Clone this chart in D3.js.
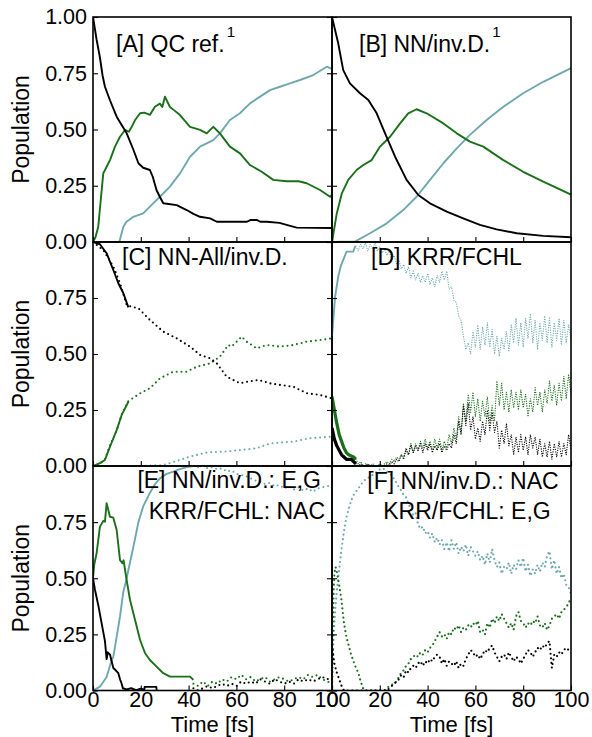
<!DOCTYPE html>
<html><head><meta charset="utf-8">
<script src="https://cdn.jsdelivr.net/npm/d3@7"></script>
<style>body{margin:0;background:#fff} svg text{font-family:"Liberation Sans",Arial,sans-serif}</style>
</head><body><svg id="c" width="592" height="737"></svg>
<script>
// ---------------- DATA ----------------
const xTicks = [0, 20, 40, 60, 80, 100];
const yTicksTop = [0, 0.25, 0.5, 0.75, 1];
const yTicksLower = [0, 0.25, 0.5, 0.75];
const panelTitles = ["[A] QC ref.", "[B] NN/inv.D.", "[C] NN-All/inv.D.", "[D] KRR/FCHL",
                     "[E] NN/inv.D.: E,G", "KRR/FCHL: NAC", "[F] NN/inv.D.: NAC", "KRR/FCHL: E,G"];

// [A] QC reference  ([time fs, population])
const aBlack = [[0,1.0],[1.5,0.9],[2.9,0.82],[4,0.74],[5,0.69],[7.1,0.63],[9.9,0.557],[12,0.52],[14.1,0.483],[16.9,0.41],[19,0.35],[21,0.33],[23.8,0.32],[25,0.29],[26.6,0.23],[28,0.2],[29.4,0.172],[35,0.164],[39.2,0.142],[42,0.125],[44.8,0.112],[49,0.105],[51.8,0.09],[64.4,0.09],[66,0.098],[68.5,0.098],[70,0.09],[72.7,0.09],[78,0.085],[81,0.076],[85.2,0.064],[100,0.062]];
const aGreen = [[0,0],[1,0.02],[2.2,0.068],[3,0.16],[4.3,0.305],[5.5,0.33],[7.1,0.364],[9.2,0.424],[11.3,0.468],[13.4,0.498],[15,0.49],[16.2,0.512],[17.6,0.542],[19.7,0.572],[21.5,0.575],[23.8,0.565],[25.9,0.601],[28,0.615],[29,0.6],[30.1,0.646],[32.2,0.6],[34,0.585],[36.4,0.564],[40.6,0.512],[44.8,0.498],[47.6,0.483],[50.3,0.512],[53.1,0.483],[57.3,0.424],[61.5,0.394],[65.7,0.342],[70.6,0.312],[75.4,0.276],[81,0.27],[86,0.27],[89.4,0.261],[95,0.231],[99.2,0.201],[100,0.21]];
const aBlue = [[0,0],[11,0],[12.7,0.068],[14,0.09],[16.9,0.112],[21,0.127],[23.8,0.157],[28,0.201],[32.2,0.246],[36.4,0.305],[40.6,0.379],[44.8,0.424],[50.3,0.453],[53.1,0.483],[57.3,0.542],[61.5,0.572],[65.7,0.616],[69.9,0.646],[74.1,0.675],[78.2,0.69],[82.4,0.705],[86.6,0.72],[92.2,0.742],[97.8,0.779],[100,0.77]];

// [B] NN/inv.D.
const bBlack = [[0,1.0],[2.6,0.883],[4.7,0.764],[7.5,0.705],[11.7,0.661],[15.2,0.631],[18.7,0.572],[22.2,0.483],[26.4,0.379],[31.2,0.276],[36.1,0.209],[41,0.172],[48,0.135],[54.9,0.105],[61.9,0.076],[68.9,0.056],[77.3,0.039],[88.4,0.027],[100,0.021]];
const bGreen = [[0,0],[2,0.127],[4.1,0.216],[6.8,0.276],[10.3,0.32],[13.1,0.342],[16.6,0.364],[20.1,0.424],[24.3,0.468],[28.5,0.527],[31.9,0.572],[35.4,0.59],[39.6,0.572],[46.6,0.527],[52.2,0.483],[57.7,0.446],[63.3,0.424],[71.7,0.364],[80,0.312],[88.4,0.268],[100,0.211]];
const bBlue = [[0,0],[9.8,0.003],[15.9,0.039],[22.9,0.083],[29.8,0.142],[35.4,0.201],[41,0.276],[46.6,0.35],[52.2,0.416],[57.7,0.476],[64.7,0.542],[71.7,0.601],[80,0.661],[88.4,0.712],[100,0.773]];

// [C] NN-All/inv.D.
const cBlackSolid = [[0,1.0],[2.9,0.99],[5.7,0.95],[8.5,0.875],[10.6,0.816],[12.7,0.771],[14.8,0.708]];
const cGreenSolid = [[0,0],[2.9,0.013],[5,0.027],[7.1,0.086],[9.9,0.16],[12,0.228],[14.8,0.287]];
const cBlackDot = [[0,1.0],[4.3,0.964],[8.5,0.89],[11.3,0.816],[14.1,0.719],[16.5,0.71],[19,0.704],[23.8,0.652],[29.4,0.6],[35,0.57],[40.6,0.533],[44.8,0.496],[49,0.481],[51.8,0.458],[55.9,0.399],[61.5,0.369],[64.3,0.376],[69.2,0.384],[74.1,0.369],[78.2,0.362],[83.8,0.354],[89.4,0.325],[95,0.317],[100,0.302]];
const cGreenDot = [[0,0],[3,0.01],[5,0.03],[7,0.09],[10,0.16],[12,0.23],[14.8,0.29],[19.7,0.324],[23.8,0.347],[28,0.391],[33.6,0.421],[39.2,0.421],[43.4,0.443],[49,0.458],[53.1,0.488],[56.6,0.54],[58,0.533],[62.2,0.577],[64.3,0.555],[68.5,0.525],[72.7,0.54],[78.2,0.533],[83.8,0.54],[89.4,0.555],[95,0.562],[100,0.57]];
const cBlueDot = [[0,0],[20,0],[29.4,0.004],[36.4,0.027],[40.6,0.042],[47.6,0.06],[54.5,0.064],[61.5,0.071],[68.5,0.079],[74.1,0.101],[83.8,0.109],[90.8,0.124],[100,0.131]];

// [D] KRR/FCHL
const dBlueSolid = [[0,0.58],[1.3,0.756],[2.6,0.845],[3.6,0.89],[4.7,0.92],[6.1,0.957],[8.9,0.957],[9.6,0.979],[10,0.98]];
const dGreenSolid = [[0,0.31],[1,0.25],[2,0.19],[3,0.14],[4,0.11],[5,0.08],[6,0.06],[7,0.05],[8,0.045],[9,0.04],[10,0.03]];
const dBlackSolid = [[0,0.17],[1,0.12],[2,0.09],[3,0.07],[4,0.05],[5,0.04],[6,0.03],[7,0.03],[8,0.03],[9,0.02],[10,0.01]];
const dTimeDot = d3.range(10, 101);
const dBlueDot = [0.98,0.96,0.99,0.97,0.995,0.96,0.99,0.97,0.995,0.96,
  0.98,0.95,0.97,0.94,0.96,0.92,0.94,0.90,0.92,0.88,
  0.90,0.86,0.89,0.84,0.87,0.83,0.86,0.82,0.85,0.82,
  0.86,0.81,0.84,0.80,0.85,0.82,0.87,0.83,0.87,0.79,
  0.80,0.74,0.73,0.67,0.65,0.58,0.52,0.55,0.50,0.60,
  0.53,0.63,0.52,0.62,0.54,0.64,0.53,0.61,0.50,0.58,
  0.49,0.57,0.52,0.60,0.51,0.63,0.55,0.66,0.54,0.64,
  0.53,0.66,0.57,0.68,0.55,0.65,0.52,0.64,0.56,0.67,
  0.55,0.66,0.53,0.64,0.56,0.66,0.54,0.65,0.55,0.63,
  0.56];
const dGreenDot = [0.03,0.01,0.02,0.0,0.01,0.0,0.0,0.01,0.0,0.0,
  0.01,0.0,0.01,0.02,0.01,0.03,0.02,0.04,0.03,0.05,
  0.04,0.07,0.05,0.09,0.06,0.10,0.07,0.11,0.08,0.12,
  0.08,0.11,0.07,0.12,0.08,0.12,0.07,0.11,0.08,0.14,
  0.10,0.17,0.12,0.22,0.15,0.28,0.20,0.32,0.24,0.33,
  0.22,0.30,0.20,0.29,0.22,0.31,0.19,0.27,0.20,0.38,
  0.27,0.37,0.25,0.33,0.24,0.34,0.26,0.33,0.25,0.34,
  0.26,0.32,0.22,0.30,0.24,0.35,0.27,0.33,0.24,0.34,
  0.28,0.38,0.29,0.36,0.27,0.37,0.29,0.40,0.30,0.41,
  0.32];
const dBlackDot = [0.01,0.0,0.01,0.0,0.0,0.01,0.0,0.0,0.0,0.0,
  0.0,0.0,0.0,0.01,0.0,0.02,0.01,0.03,0.02,0.05,
  0.03,0.08,0.05,0.10,0.06,0.09,0.07,0.10,0.06,0.10,
  0.07,0.10,0.06,0.09,0.07,0.10,0.06,0.09,0.07,0.10,
  0.08,0.14,0.10,0.20,0.14,0.27,0.18,0.28,0.16,0.22,
  0.12,0.17,0.11,0.20,0.14,0.25,0.16,0.24,0.15,0.20,
  0.08,0.16,0.10,0.19,0.09,0.14,0.05,0.13,0.06,0.14,
  0.07,0.13,0.05,0.14,0.08,0.13,0.05,0.12,0.04,0.10,
  0.04,0.11,0.03,0.10,0.04,0.11,0.04,0.10,0.05,0.14,
  0.07];

// [E] NN/inv.D.: E,G  KRR/FCHL: NAC
const eGreenSolid = [[0,0.5],[0.5,0.56],[1.5,0.611],[2.9,0.73],[4.3,0.755],[5,0.752],[5.7,0.834],[7.1,0.774],[8.5,0.77],[9.9,0.715],[11.3,0.581],[12.3,0.567],[12.8,0.58],[14.1,0.49],[15.5,0.403],[17.6,0.314],[19.7,0.225],[21.8,0.166],[23.8,0.136],[26.6,0.106],[29.4,0.077],[32.2,0.062],[36.4,0.062],[40.6,0.062],[42,0.047]];
const eBlackSolid = [[0,0.5],[0.8,0.45],[2.2,0.38],[3.6,0.3],[5,0.22],[5.7,0.14],[6.2,0.17],[7.1,0.16],[8.5,0.1],[9.5,0.09],[10.6,0.077],[11.3,0.05],[12,0.03],[12.5,0.01],[14,0.005],[16,0.01],[18,0.002],[20,0.008],[21.5,0.004],[21.6,0.016],[26.5,0.016],[26.6,0.003],[27,0.003]];
const eBlueSolid = [[0,0.0],[2.9,0.017],[5.7,0.06],[7.8,0.136],[8.5,0.15],[9.9,0.24],[10.6,0.284],[11.3,0.33],[12.7,0.44],[14.1,0.5],[14.8,0.537],[16.9,0.64],[19,0.75],[21,0.82],[23.8,0.88],[26,0.92],[28,0.945],[30.8,0.965],[33.6,0.975],[36,0.985],[39.2,0.995],[42,1.0]];
const eTimeDot = d3.range(42, 101, 2);
const eBlueDot = [1.0,0.995,1.0,0.99,0.995,0.985,0.99,0.975,0.98,0.965,0.96,0.955,0.945,0.935,0.93,0.92,0.925,0.91,0.915,0.9,0.91,0.895,0.905,0.89,0.9,0.885,0.9,0.905,0.91,0.915];
const eGreenDot = [0.03,0.02,0.04,0.02,0.04,0.03,0.05,0.04,0.06,0.05,0.07,0.05,0.06,0.04,0.05,0.06,0.04,0.05,0.06,0.05,0.04,0.05,0.06,0.05,0.07,0.06,0.07,0.05,0.04,0.03];
const eBlackDot = [0.01,0.0,0.01,0.02,0.01,0.02,0.03,0.02,0.03,0.02,0.04,0.03,0.04,0.03,0.05,0.04,0.03,0.05,0.04,0.03,0.04,0.03,0.05,0.04,0.05,0.04,0.05,0.06,0.05,0.06];

// [F] NN/inv.D.: NAC  KRR/FCHL: E,G
const fBlue = [[0,0.0],[0.5,0.2],[1,0.3],[1.5,0.38],[2,0.44],[2.5,0.49],[3,0.54],[4,0.63],[5,0.71],[6,0.77],[7,0.81],[8,0.845],[9,0.87],[10,0.885],[11,0.9],[12,0.915],[13,0.93],[14,0.94],[15,0.945],[16,0.955],[17,0.96],[18,0.97],[19,0.975],[20,0.985],[21,0.99],[22,0.985],[23,0.975],[24,0.965],[25,0.96],[26,0.94],[27,0.925],[28,0.905],[29,0.89],[30,0.87],[31,0.86],[32,0.83],[33,0.81],[34,0.78],[35,0.79],[36,0.74],[37,0.72],[38,0.73],[39,0.7],[40,0.71],[41,0.68],[42,0.7],[43,0.66],[44,0.68],[45,0.65],[46,0.67],[47,0.63],[48,0.66],[49,0.62],[50,0.67],[51,0.63],[52,0.66],[53,0.61],[54,0.64],[55,0.62],[56,0.65],[57,0.6],[58,0.64],[59,0.62],[60,0.6],[61,0.62],[62,0.58],[63,0.6],[64,0.56],[65,0.61],[66,0.57],[67,0.63],[68,0.58],[69,0.55],[70,0.57],[71,0.52],[72,0.55],[73,0.54],[74,0.57],[75,0.52],[76,0.56],[77,0.54],[78,0.58],[79,0.55],[80,0.59],[81,0.53],[82,0.56],[83,0.51],[84,0.54],[85,0.52],[86,0.56],[87,0.53],[88,0.57],[89,0.55],[90,0.6],[91,0.62],[92,0.54],[93,0.58],[94,0.52],[95,0.55],[96,0.5],[97,0.52],[98,0.47],[99,0.46],[100,0.43]];
const fGreen = [[0,0.0],[0.3,0.25],[0.7,0.45],[1,0.52],[1.5,0.55],[2,0.53],[3,0.47],[4,0.4],[5,0.3],[6,0.24],[7,0.2],[8,0.16],[9,0.13],[10,0.1],[11,0.08],[12,0.04],[13,0.01],[14,0.0],[16,0.0],[18,0.0],[20,0.0],[22,0.0],[23,0.01],[24,0.02],[25,0.025],[26,0.03],[27,0.04],[28,0.06],[29,0.08],[30,0.09],[31,0.11],[32,0.12],[33,0.14],[34,0.15],[35,0.16],[36,0.15],[37,0.17],[38,0.16],[39,0.18],[40,0.17],[41,0.19],[42,0.2],[43,0.22],[44,0.24],[45,0.26],[46,0.24],[47,0.25],[48,0.23],[49,0.26],[50,0.25],[51,0.28],[52,0.27],[53,0.29],[54,0.26],[55,0.28],[56,0.27],[57,0.29],[58,0.28],[59,0.3],[60,0.29],[61,0.31],[62,0.26],[63,0.27],[64,0.25],[65,0.3],[66,0.28],[67,0.32],[68,0.3],[69,0.33],[70,0.31],[71,0.34],[72,0.32],[73,0.3],[74,0.28],[75,0.3],[76,0.27],[77,0.33],[78,0.35],[79,0.31],[80,0.3],[81,0.28],[82,0.3],[83,0.29],[84,0.31],[85,0.3],[86,0.33],[87,0.29],[88,0.28],[89,0.3],[90,0.27],[91,0.29],[92,0.32],[93,0.33],[94,0.34],[95,0.32],[96,0.35],[97,0.36],[98,0.37],[99,0.39],[100,0.41]];
const fBlack = [[0,0.2],[1,0.12],[2,0.08],[3,0.05],[4,0.02],[5,0.0],[10,0.0],[15,0.0],[20,0.0],[23,0.0],[24,0.01],[25,0.02],[26,0.03],[27,0.04],[28,0.05],[29,0.07],[30,0.06],[31,0.09],[32,0.08],[33,0.1],[34,0.11],[35,0.1],[36,0.12],[37,0.13],[38,0.11],[39,0.13],[40,0.12],[41,0.14],[42,0.13],[43,0.15],[44,0.16],[45,0.15],[46,0.12],[47,0.14],[48,0.11],[49,0.13],[50,0.12],[51,0.11],[52,0.13],[53,0.1],[54,0.12],[55,0.11],[56,0.14],[57,0.16],[58,0.18],[59,0.17],[60,0.15],[61,0.16],[62,0.14],[63,0.16],[64,0.18],[65,0.17],[66,0.19],[67,0.2],[68,0.17],[69,0.15],[70,0.13],[71,0.15],[72,0.16],[73,0.14],[74,0.17],[75,0.15],[76,0.13],[77,0.15],[78,0.14],[79,0.12],[80,0.14],[81,0.16],[82,0.18],[83,0.17],[84,0.15],[85,0.17],[86,0.19],[87,0.18],[88,0.2],[89,0.19],[90,0.21],[91,0.22],[92,0.1],[93,0.16],[94,0.15],[95,0.17],[96,0.16],[97,0.18],[98,0.19],[99,0.18],[100,0.19]];

// ---------------- STYLE / LAYOUT ----------------
const COL = {k: "#000000", g: "#1a6f1a", b: "#6ea8ae"};
const colX = [[93, 332], [332, 571]];
const rowY = [[17, 242], [242, 466], [466, 690.5]];
const STY = {
  solid: {w: 1.9, dash: null},
  thick: {w: 3.2, dash: null},
  dotC:  {w: 2.1, dash: "0 4.8"},
  dotD:  {w: 1.3, dash: "0 2.4"},
  dotF:  {w: 2.2, dash: "0 4.6"}
};
const zipT = (ts, vs) => ts.map((t, i) => [t, vs[i]]);

const panels = [
  {col:0,row:0, s:[[aBlue,'b','solid'],[aGreen,'g','solid'],[aBlack,'k','solid']]},
  {col:1,row:0, s:[[bBlue,'b','solid'],[bGreen,'g','solid'],[bBlack,'k','solid']]},
  {col:0,row:1, s:[[cBlueDot,'b','dotC'],[cGreenDot,'g','dotC'],[cBlackDot,'k','dotC'],[cGreenSolid,'g','solid'],[cBlackSolid,'k','solid']]},
  {col:1,row:1, s:[[dBlueSolid,'b','solid'],[zipT(dTimeDot,dBlueDot),'b','dotD'],[zipT(dTimeDot,dGreenDot),'g','dotD'],[zipT(dTimeDot,dBlackDot),'k','dotD'],[dGreenSolid,'g','thick'],[dBlackSolid,'k','thick']]},
  {col:0,row:2, s:[[eBlueSolid,'b','solid'],[zipT(eTimeDot,eBlueDot),'b','dotC'],[eGreenSolid,'g','solid'],[zipT(eTimeDot,eGreenDot),'g','dotC'],[eBlackSolid,'k','solid'],[zipT(eTimeDot,eBlackDot),'k','dotC']]},
  {col:1,row:2, s:[[fBlue,'b','dotF'],[fGreen,'g','dotF'],[fBlack,'k','dotF']]}
];

const svg = d3.select("#c");
const FONT_TICK = 21.5;

panels.forEach((p, i) => {
  const [x0, x1] = colX[p.col], [y0, y1] = rowY[p.row];
  const x = d3.scaleLinear([0, 100], [x0, x1]);
  const y = d3.scaleLinear([0, 1], [y1, y0]);
  const cid = "clip" + i;
  svg.append("clipPath").attr("id", cid).append("rect")
    .attr("x", x0).attr("y", y0).attr("width", x1 - x0).attr("height", y1 - y0);
  const g = svg.append("g").attr("clip-path", `url(#${cid})`);
  const line = d3.line().x(d => x(d[0])).y(d => y(d[1]));
  p.s.forEach(([data, c, st]) => {
    const S = STY[st];
    const path = g.append("path").attr("d", line(data)).attr("fill", "none")
      .attr("stroke", COL[c]).attr("stroke-width", S.w)
      .attr("stroke-linejoin", "round");
    if (S.dash) path.attr("stroke-dasharray", S.dash).attr("stroke-linecap", "round");
  });

  // axes
  const left = d3.axisLeft(y).tickValues(p.row === 0 ? yTicksTop : yTicksLower)
    .tickSize(-5).tickPadding(6).tickFormat(p.col === 0 ? d3.format(".2f") : () => "");
  svg.append("g").attr("transform", `translate(${x0},0)`).call(left);
  if (p.col === 0) {
    svg.append("g").attr("transform", `translate(${x1},0)`)
      .call(d3.axisRight(y).tickValues(yTicksTop).tickSize(-5).tickFormat(() => ""));
  }
  const bottom = d3.axisBottom(x).tickValues(xTicks).tickSize(-5).tickPadding(1.5)
    .tickFormat(p.row === 2 ? d3.format("d") : () => "");
  svg.append("g").attr("transform", `translate(0,${y1})`).call(bottom);

  // frame
  svg.append("rect").attr("x", x0).attr("y", y0).attr("width", x1 - x0).attr("height", y1 - y0)
    .attr("fill", "none").attr("stroke", "#000").attr("stroke-width", 1.6);
});

svg.selectAll(".domain").remove();
svg.selectAll(".tick line").attr("stroke", "#000").attr("stroke-width", 1.1);
svg.selectAll(".tick text").attr("font-size", FONT_TICK).attr("fill", "#000")
  .attr("font-family", '"Liberation Sans", Arial, sans-serif');

// axis labels
rowY.forEach(([a, b]) => {
  svg.append("text").attr("transform", `translate(29,${(a + b) / 2}) rotate(-90)`)
    .attr("text-anchor", "middle").attr("font-size", 23).text("Population");
});
colX.forEach(([a, b]) => {
  svg.append("text").attr("x", (a + b) / 2).attr("y", 732)
    .attr("text-anchor", "middle").attr("font-size", 22).text("Time [fs]");
});

// panel titles
function title(txt, xx, yy, anchor, sup) {
  const t = svg.append("text").attr("x", xx).attr("y", yy).attr("font-size", 23)
    .attr("text-anchor", anchor).text(txt);
  if (sup) t.append("tspan").attr("dx", 2).attr("dy", -15).attr("font-size", 15).text(sup);
}
title(panelTitles[0], 116, 52, "start", "1");
title(panelTitles[1], 359, 52, "start", "1");
title(panelTitles[2], 122, 265, "start");
title(panelTitles[3], 371, 265, "start");
title(panelTitles[4], 321, 488, "end");
title(panelTitles[5], 325, 519, "end");
title(panelTitles[6], 463, 489, "middle");
title(panelTitles[7], 467, 519, "middle");
</script></body></html>
